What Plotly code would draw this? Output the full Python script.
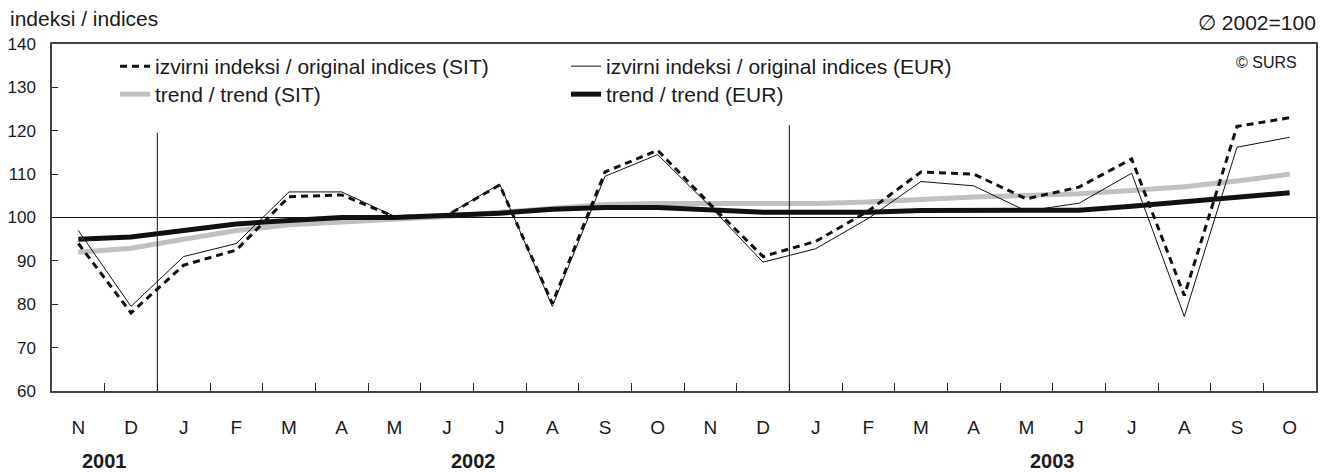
import plotly.graph_objects as go

months = ["N", "D", "J", "F", "M", "A", "M", "J", "J", "A", "S", "O",
          "N", "D", "J", "F", "M", "A", "M", "J", "J", "A", "S", "O"]
years = ["2001", "2002", "2003"]
year_pos = [0.5, 7.5, 18.5]

orig_sit = [94.0, 78.0, 89.0, 92.5, 104.8, 105.2, 100.2, 100.5, 107.5, 80.2, 110.5, 115.5,
            103.0, 91.0, 94.5, 101.5, 110.5, 110.0, 104.3, 107.0, 113.5, 82.0, 121.0, 123.0]
orig_eur = [97.0, 79.5, 91.0, 94.0, 105.9, 105.9, 100.3, 100.6, 107.7, 79.5, 109.5, 114.5,
            102.5, 89.7, 92.8, 99.8, 108.3, 107.3, 101.5, 103.3, 110.2, 77.2, 116.2, 118.5]
trend_sit = [92.0, 92.9, 95.0, 97.0, 98.3, 99.0, 99.5, 100.2, 101.2, 102.2, 103.0, 103.2,
             103.2, 103.2, 103.2, 103.6, 104.2, 104.7, 105.1, 105.5, 106.2, 107.1, 108.4, 110.0]
trend_eur = [95.0, 95.5, 97.0, 98.5, 99.3, 100.0, 100.0, 100.4, 101.0, 101.9, 102.3, 102.3,
             101.8, 101.2, 101.2, 101.2, 101.6, 101.6, 101.7, 101.7, 102.6, 103.6, 104.6, 105.7]

x = list(range(len(months)))
font_family = "Liberation Sans, Arial, sans-serif"
ink = "#1a1a1a"

# page body has an 8px margin, so the figure is laid out 8px smaller
W, H = 1324, 464
L, T, R, B = 44, 36, 16, 81
PW, PH = W - L - R, H - T - B


def px(X):
    return (X - L) / PW


def py(Y):
    return (H - B - Y) / PH


fig = go.Figure()
fig.add_trace(go.Scatter(x=x, y=trend_sit, mode="lines", name="trend / trend (SIT)",
                         line=dict(color="#c0c0c0", width=5), legend="legend3"))
fig.add_trace(go.Scatter(x=x, y=trend_eur, mode="lines", name="trend / trend (EUR)",
                         line=dict(color="#111111", width=5), legend="legend4"))
fig.add_trace(go.Scatter(x=x, y=orig_sit, mode="lines", name="izvirni indeksi / original indices (SIT)",
                         line=dict(color="#111111", width=3, dash="7px,5px"), legend="legend"))
fig.add_trace(go.Scatter(x=x, y=orig_eur, mode="lines", name="izvirni indeksi / original indices (EUR)",
                         line=dict(color="#111111", width=1), legend="legend2"))

shapes = [
    dict(type="line", xref="paper", x0=0, x1=1, yref="y", y0=100, y1=100,
         line=dict(color="#111111", width=1), layer="above"),
    dict(type="line", xref="x", x0=1.5, x1=1.5, yref="y", y0=60, y1=119.5,
         line=dict(color="#111111", width=1), layer="above"),
    dict(type="line", xref="x", x0=13.5, x1=13.5, yref="y", y0=60, y1=121.3,
         line=dict(color="#111111", width=1), layer="above"),
]

annotations = [
    dict(text="indeksi / indices", xref="paper", yref="paper", x=px(0), y=py(10),
         xanchor="left", yanchor="middle", showarrow=False, font=dict(size=21, color=ink)),
    dict(text="\u2205 2002=100", xref="paper", yref="paper", x=px(1310), y=py(14),
         xanchor="right", yanchor="middle", showarrow=False, font=dict(size=21, color=ink)),
    dict(text="\u00a9 SURS", xref="paper", yref="paper", x=px(1291), y=py(55),
         xanchor="right", yanchor="middle", showarrow=False, font=dict(size=16, color=ink)),
]
for yr, pos in zip(years, year_pos):
    annotations.append(dict(text="<b>" + yr + "</b>", xref="x", yref="paper", x=pos, y=py(453),
                            xanchor="center", yanchor="middle", showarrow=False,
                            font=dict(size=20, color=ink)))


def leg(xl, yt):
    return dict(x=px(xl), y=py(yt), xanchor="left", yanchor="top",
                bgcolor="rgba(0,0,0,0)", font=dict(size=21, color=ink), itemwidth=30)


fig.update_layout(
    width=W, height=H,
    margin=dict(l=L, r=R, t=T, b=B, autoexpand=False),
    paper_bgcolor="white", plot_bgcolor="white",
    font=dict(family=font_family, size=17, color=ink),
    showlegend=True,
    legend=leg(107, 38),
    legend2=leg(558, 38),
    legend3=leg(107, 66),
    legend4=leg(558, 66),
    shapes=shapes,
    annotations=annotations,
    xaxis=dict(range=[-0.5, len(months) - 0.5], tickmode="array", tickvals=x, ticktext=months,
               ticks="", showgrid=False, zeroline=False, showline=True, linecolor="#444444",
               linewidth=1.5, mirror=True, tickfont=dict(size=19, color=ink), ticklabelstandoff=18,
               automargin=False,
               minor=dict(tickmode="array", tickvals=[i + 0.5 for i in x[:-1]], ticks="inside",
                          ticklen=8, tickcolor="#222222", tickwidth=1, showgrid=False)),
    yaxis=dict(range=[60, 140], tickmode="linear", tick0=60, dtick=10, ticks="inside",
               ticklen=6, tickcolor="#222222", showgrid=False, zeroline=False, showline=True,
               linecolor="#444444", linewidth=1.5, mirror=True, tickfont=dict(size=17, color=ink),
               ticklabelstandoff=11, automargin=False),
)

fig.write_html("out.html")
